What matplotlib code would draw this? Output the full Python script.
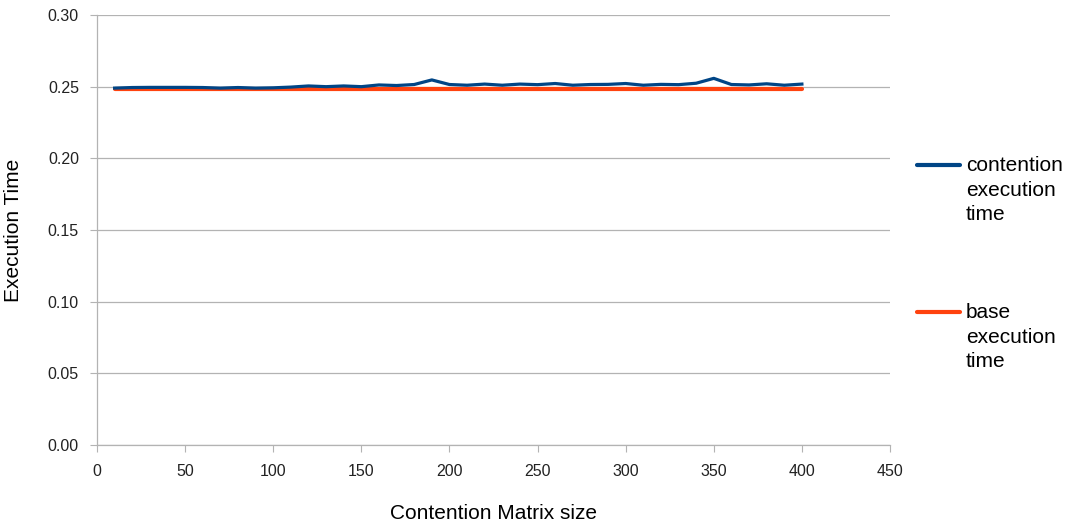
import matplotlib
matplotlib.use("Agg")
import matplotlib.pyplot as plt
from matplotlib.lines import Line2D
from matplotlib.ticker import FormatStrFormatter

plt.rcParams['font.family'] = ['Liberation Sans', 'DejaVu Sans']

# matrix sizes used in the runs
matrix_size = [10, 20, 30, 40, 50, 60, 70, 80, 90, 100,
               110, 120, 130, 140, 150, 160, 170, 180, 190, 200,
               210, 220, 230, 240, 250, 260, 270, 280, 290, 300,
               310, 320, 330, 340, 350, 360, 370, 380, 390, 400]

contention_time = [0.2490, 0.2494, 0.2495, 0.2495, 0.2495, 0.2494, 0.2490, 0.2494, 0.2490, 0.2492,
                   0.2497, 0.2505, 0.2500, 0.2505, 0.2500, 0.2512, 0.2508, 0.2515, 0.2547, 0.2515,
                   0.2510, 0.2518, 0.2510, 0.2518, 0.2514, 0.2522, 0.2510, 0.2515, 0.2516, 0.2522,
                   0.2510, 0.2516, 0.2514, 0.2524, 0.2558, 0.2515, 0.2512, 0.2520, 0.2510, 0.2518]

base_time = [0.2485] * len(matrix_size)

labels = ["contention\nexecution\ntime", "base\nexecution\ntime"]
colors = ["#004586", "#FF420E"]

fig = plt.figure(figsize=(10.72, 5.24), dpi=100)
ax = fig.add_axes([97 / 1072, 1 - 445 / 524, (890 - 97) / 1072, (445 - 15) / 524])

ax.plot(matrix_size, base_time, color=colors[1], lw=3.0, solid_capstyle="round", zorder=3)
ax.plot(matrix_size, contention_time, color=colors[0], lw=2.3, solid_joinstyle="round", zorder=4)

ax.set_xlim(0, 450)
ax.set_ylim(0, 0.30)
ax.set_xticks(range(0, 451, 50))
ax.set_yticks([0, 0.05, 0.10, 0.15, 0.20, 0.25, 0.30])
ax.yaxis.set_major_formatter(FormatStrFormatter("%.2f"))

ax.grid(axis="y", color="#b3b3b3", lw=0.9)
ax.set_axisbelow(True)
for side in ["top", "right"]:
    ax.spines[side].set_visible(False)
for side in ["left", "bottom"]:
    ax.spines[side].set_color("#b3b3b3")
    ax.spines[side].set_linewidth(0.9)
ax.tick_params(axis="both", direction="out", length=5, color="#b3b3b3",
               labelsize=11.5, labelcolor="#222222")
ax.tick_params(axis="y", pad=8)
ax.tick_params(axis="x", pad=9)

ax.set_xlabel("Contention Matrix size", fontsize=15, labelpad=18)
ax.set_ylabel("Execution Time", fontsize=15, labelpad=18)

# legend on the right, key line aligned with first text line
for i, (lab, c) in enumerate(zip(labels, colors)):
    ytop = 165 + i * 147
    fig.add_artist(Line2D([917 / 1072, 960 / 1072], [1 - ytop / 524, 1 - ytop / 524],
                          color=c, lw=3.0, solid_capstyle="round"))
    fig.text(966 / 1072, 1 - (ytop - 9) / 524, lab, fontsize=15, va="top", ha="left",
             linespacing=1.38)

fig.savefig("out.png", dpi=100)
